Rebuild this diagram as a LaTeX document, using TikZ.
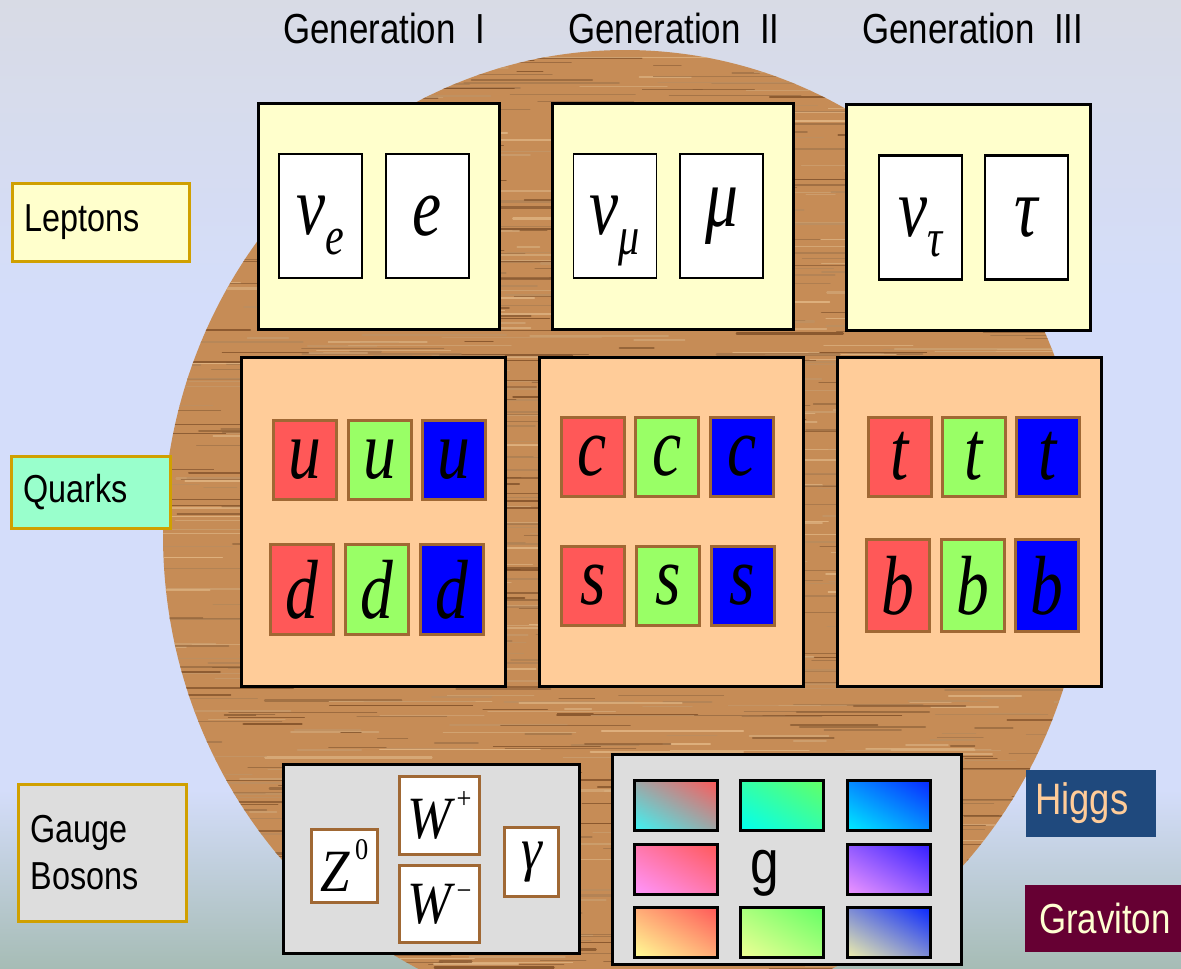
\documentclass[tikz,border=0pt]{standalone}
\usepackage{fontspec}
\usepackage{xcolor}
\usepackage{tikz}
\usetikzlibrary{shadings}
\newfontfamily\labfont[FakeStretch=0.83]{Liberation Sans}
\newfontfamily\symfont[FakeStretch=0.78]{Liberation Serif}
\newfontfamily\bosfont[FakeStretch=0.88]{Liberation Serif}
\definecolor{skytop}{RGB}{216,219,229}
\definecolor{skymid}{RGB}{212,221,250}
\definecolor{skylow}{RGB}{166,188,181}
\definecolor{woodbase}{RGB}{198,140,86}
\definecolor{woodlight}{RGB}{232,190,140}
\definecolor{wooddark}{RGB}{118,70,32}
\definecolor{lepfill}{RGB}{255,255,204}
\definecolor{qfill}{RGB}{255,204,153}
\definecolor{bosfill}{RGB}{221,221,221}
\definecolor{mint}{RGB}{153,255,204}
\definecolor{gold}{RGB}{208,160,0}
\definecolor{cellbrown}{RGB}{160,104,52}
\definecolor{qred}{RGB}{255,88,88}
\definecolor{qgreen}{RGB}{153,255,102}
\definecolor{qblue}{RGB}{0,0,255}
\definecolor{higgsblue}{RGB}{31,73,125}
\definecolor{gravred}{RGB}{102,0,51}
\definecolor{peach}{RGB}{255,204,153}
\definecolor{cream}{RGB}{255,255,210}
\definecolor{gred}{RGB}{255,88,88}
\definecolor{gcyan}{RGB}{60,245,245}
\definecolor{gaqua}{RGB}{0,255,240}
\definecolor{gsky}{RGB}{0,238,255}
\definecolor{ggreen}{RGB}{100,255,100}
\definecolor{gblue}{RGB}{10,40,255}
\definecolor{gviolet}{RGB}{50,30,255}
\definecolor{gpink}{RGB}{255,150,255}
\definecolor{glilac}{RGB}{240,150,255}
\definecolor{gyellow}{RGB}{255,255,150}
\definecolor{glime}{RGB}{240,255,150}
\definecolor{gsand}{RGB}{240,240,170}
\newcommand\nusub[1]{\raisebox{-20pt}[0pt][0pt]{\fontsize{54}{54}\selectfont #1}}
\newcommand\bosup[2]{\kern5pt\raisebox{#1}{\fontsize{30}{30}\selectfont\upshape #2}}
\tikzset{
    gen/.style    ={font=\fontsize{42}{48}\labfont, inner sep=0pt},
    tag/.style    ={draw=gold, line width=3pt, align=left, inner xsep=12pt,
                    font=\fontsize{39}{47}\labfont},
    lepbox/.style ={draw=black, line width=3pt, fill=lepfill,
                    minimum width=241pt, minimum height=226pt},
    lcell/.style  ={draw=black, line width=1.6pt, fill=white, inner sep=0pt,
                    minimum width=83pt, minimum height=124pt,
                    font=\fontsize{84}{90}\symfont\itshape},
    qbox/.style   ={draw=black, line width=3pt, fill=qfill,
                    minimum width=264pt, minimum height=329pt},
    qcell/.style  ={draw=cellbrown, line width=3pt, inner sep=0pt,
                    minimum width=63pt, minimum height=79pt,
                    font=\fontsize{84}{90}\symfont\itshape},
    bosbox/.style ={draw=black, line width=3pt, fill=bosfill},
    bcell/.style  ={draw=cellbrown, line width=3pt, fill=white, inner sep=0pt,
                    font=\fontsize{60}{64}\bosfont\itshape},
    gcell/.style 2 args={draw=black, line width=3pt,
                    minimum width=83pt, minimum height=50pt,
                    lower left=#1, upper right=#2,
                    upper left=#1!50!#2, lower right=#1!50!#2},
    badge/.style  ={align=left, minimum height=67pt, font=\fontsize{42}{48}\labfont}
}
\begin{document}
\begin{tikzpicture}[x=1pt, y=-1pt]
  \useasboundingbox (0,0) rectangle (1181,969);
  % backdrop
  \shade[top color=skytop, bottom color=skymid] (0,0) rectangle (1181,300);
  \fill[skymid] (0,299) rectangle (1181,791);
  \shade[top color=skymid, bottom color=skylow] (0,790) rectangle (1181,969);

  % wooden disc
  \begin{scope}
    \clip (625,535) ellipse [x radius=462, y radius=485];
    \fill[woodbase] (100,0) rectangle (1150,969);
    \pgfmathsetseed{42}
    \foreach \k in {1,...,1300}{
      \pgfmathsetmacro\sx{110+rnd*1000}
      \pgfmathsetmacro\sy{45+rnd*930}
      \pgfmathsetmacro\sl{20+rnd*150}
      \pgfmathsetmacro\sw{0.4+rnd*2}
      \pgfmathsetmacro\st{rnd*100}
      \draw[line width=\sw pt, draw=wooddark!\st!woodlight, opacity=0.75,
            line cap=round] (\sx,\sy) -- ++(\sl,0);
    }
  \end{scope}

  % generations
  \node[gen, anchor=base west] (gen1) at (283,43) {Generation~~I};
  \node[gen, anchor=base west] (gen2) at (568,43) {Generation~~II};
  \node[gen, anchor=base west] (gen3) at (862,43) {Generation~~III};

  % row labels
  \node[tag, fill=lepfill, minimum height=78pt, text width=153pt] (leptons) at (101,222.5) {Leptons};
  \node[tag, fill=mint, minimum height=72pt, text width=135pt] (quarks) at (91,492.5) {Quarks};
  \node[tag, fill=bosfill, minimum height=137pt, text width=144pt] (gauge) at (102.5,853) {Gauge\\Bosons};

  % leptons
  \node[lepbox] (lep1) at (379,216.5) {};
  \node[lepbox] (lep2) at (673,216.5) {};
  \node[lepbox, minimum width=244pt] (lep3) at (968.5,217) {};
  \node[lcell] (nue)   at (320.5,216)   {ν\nusub{e}};
  \node[lcell] (elec)  at (427.5,216)   {e};
  \node[lcell] (numu)  at (615,216)     {ν\nusub{μ}};
  \node[lcell] (muon)  at (721.5,216)   {μ};
  \node[lcell, line width=2.6pt] (nutau) at (920.5,217.5) {ν\nusub{τ}};
  \node[lcell, line width=2.6pt] (tau)   at (1026.5,217.5) {τ};

  % quarks
  \node[qbox] (q1) at (373,522) {};
  \node[qbox] (q2) at (671,522) {};
  \node[qbox] (q3) at (969,522) {};
  \node[qcell, fill=qred]   (ur) at (304.5,459.5) {u};
  \node[qcell, fill=qgreen] (ug) at (380,459.5)   {u};
  \node[qcell, fill=qblue]  (ub) at (453.5,459.5) {u};
  \node[qcell, fill=qred,   minimum height=90pt] (dr) at (302,589.5)   {d};
  \node[qcell, fill=qgreen, minimum height=90pt] (dg) at (376.5,589.5) {d};
  \node[qcell, fill=qblue,  minimum height=90pt] (db) at (451.5,589.5) {d};
  \node[qcell, fill=qred]   (cr) at (592.5,456.5) {c};
  \node[qcell, fill=qgreen] (cg) at (667,456.5)   {c};
  \node[qcell, fill=qblue]  (cb) at (742,456.5)   {c};
  \node[qcell, fill=qred]   (sr) at (593,585.5)   {s};
  \node[qcell, fill=qgreen] (sg) at (668,585.5)   {s};
  \node[qcell, fill=qblue]  (sb) at (742.5,585.5) {s};
  \node[qcell, fill=qred]   (tr) at (899.5,456.5) {t};
  \node[qcell, fill=qgreen] (tg) at (974,456.5)   {t};
  \node[qcell, fill=qblue]  (tb) at (1048,456.5)  {t};
  \node[qcell, fill=qred,   minimum height=92pt] (br) at (898,585.5)  {b};
  \node[qcell, fill=qgreen, minimum height=92pt] (bg) at (973,585.5)  {b};
  \node[qcell, fill=qblue,  minimum height=92pt] (bb) at (1047,585.5) {b};

  % gauge bosons
  \node[bosbox, minimum width=296pt, minimum height=189pt] (bos) at (431.5,859) {};
  \node[bcell, minimum width=66pt, minimum height=73pt] (zzero) at (344.5,866) {Z\bosup{32pt}{0}};
  \node[bcell, minimum width=80pt, minimum height=78pt] (wplus) at (439.5,815.5) {W\bosup{30pt}{+}};
  \node[bcell, minimum width=80pt, minimum height=77pt] (wminus) at (439.5,904) {W\bosup{23pt}{−}};
  \node[bcell, minimum width=54pt, minimum height=69pt] (photon) at (531.5,862) {γ};

  % gluons
  \node[bosbox, minimum width=349pt, minimum height=210pt] (glu) at (787,859.5) {};
  \node[gcell={gcyan}{gred}]     (g11) at (676,805.5)   {};
  \node[gcell={gaqua}{ggreen}]   (g12) at (782,805.5)   {};
  \node[gcell={gsky}{gblue}]     (g13) at (888.5,805.5) {};
  \node[gcell={gpink}{gred}]     (g21) at (676,869)     {};
  \node[font=\fontsize{62}{64}\labfont, inner sep=0pt] (gtxt) at (765,873) {g};
  \node[gcell={glilac}{gviolet}] (g23) at (888.5,869)   {};
  \node[gcell={gyellow}{gred}]   (g31) at (676,932.5)   {};
  \node[gcell={glime}{ggreen}]   (g32) at (782,932.5)   {};
  \node[gcell={gsand}{gblue}]    (g33) at (888.5,932.5) {};

  % extras
  \node[badge, fill=higgsblue, text=peach, inner xsep=9pt, text width=112pt,
        font=\fontsize{44}{48}\labfont] (higgs) at (1091,803.5) {Higgs};
  \node[badge, fill=gravred, text=cream, inner xsep=14pt, text width=132pt] (grav) at (1105,918.5) {Graviton};
\end{tikzpicture}
\end{document}
